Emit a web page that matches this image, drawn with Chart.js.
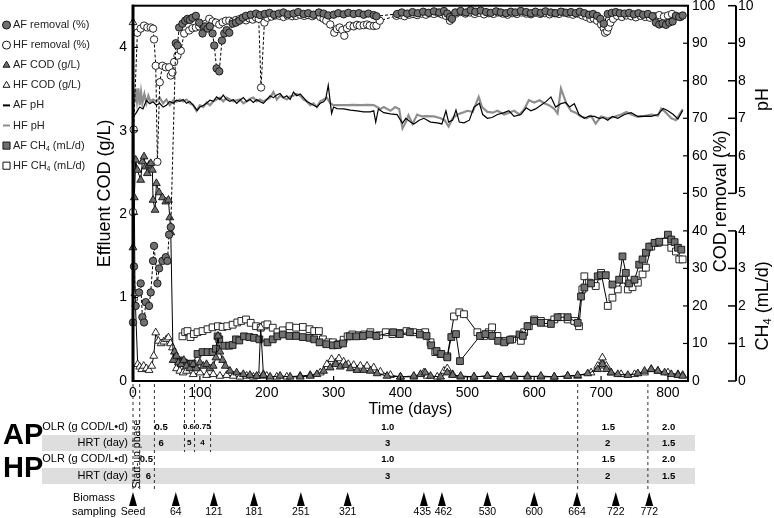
<!DOCTYPE html>
<html>
<head>
<meta charset="utf-8">
<script src="https://cdn.jsdelivr.net/npm/chart.js@4.4.1/dist/chart.umd.min.js"></script>
<style>html,body{margin:0;padding:0;background:#fff}canvas{display:block}</style>
</head>
<body>
<canvas id="c" width="774" height="518"></canvas>
<script>
const FONT = '"Liberation Sans", Arial, Helvetica, sans-serif'
Chart.defaults.font.family = FONT
Chart.defaults.color = '#000'

const GRAY = '#707070'
const PH_GRAY = '#8e8e8e'

// [day, %]
const afRemoval = [[0,15.6],[1.5,30.5],[4,20],[9,23.6],[11.5,26],[14,17],[16.5,15.6],[19,21],[24,20],[26.5,23.6],[30,32],[31.5,36],[36.5,26],[39,30],[44,32],[49,33],[51.5,32],[54,39],[56.5,41],[64,90],[66.5,89.4],[69,94.2],[74,95.2],[78,96],[81.5,96.5],[85,96.2],[89,96.8],[94,97.3],[99,95.5],[104,92.6],[108,94.5],[111.5,93.9],[115,94.5],[119,92.6],[121.5,89.4],[125,83.3],[129,82.5],[133,90.7],[136.5,92.6],[140,93.5],[144,92.8],[149,95.2],[154,95.5],[159,96],[164,96.8],[169,97.3],[176,97.6],[184,97.9],[190,97.5],[197,97.8],[204,98.1],[211,97.6],[218,97.9],[225,98.2],[232,97.7],[240,97.9],[247,98.3],[255,97.8],[262,98],[270,97.6],[278,98.2],[285,97.9],[292,97.4],[300,97.6],[307,98],[315,97.7],[322,98.1],[330,97.8],[338,98],[345,97.6],[352,97.9],[360,97.5],[364,97.2],[395,97.8],[402,98.2],[410,97.9],[418,98.3],[426,98],[434,98.4],[442,98.1],[450,98.5],[458,98.2],[465,98.6],[470,97.9],[474,97],[477,96.5],[482,98.2],[490,98.6],[498,98.2],[505,98.8],[512,98.4],[520,98.7],[528,98.3],[535,98.1],[543,98.5],[550,98.2],[558,98],[565,98.4],[572,98.2],[580,98.6],[588,98.3],[595,98],[602,98.4],[610,98.1],[617,98.5],[625,98.2],[632,98],[640,98.4],[648,98.1],[655,98.3],[662,98],[668,98.4],[675,98],[682,97.6],[688,97.8],[694,97.3],[699,96.5],[704,95.2],[710,97.8],[716,98.1],[722,98.3],[728,98],[735,97.9],[742,98.1],[749,97.7],[756,98],[763,97.6],[770,97.8],[777,97.2],[782,95.5],[787,95],[792,95.3],[797,94.9],[802,95.5],[807,95.8],[812,97.3],[817,97],[822,97.4]]
const hfRemoval = [[0,45],[1,67],[6.5,92.8],[11.5,93.9],[16.5,94.7],[21.5,94.2],[26.5,94.2],[30,93.9],[31.5,91],[34,84],[36.5,58.4],[40,79.6],[44,84],[49,83.6],[54,83.6],[56.5,81.4],[59,82.2],[61.5,85],[66.5,86.7],[71.5,88],[76.5,92.6],[84,93.4],[89,94],[94,94.2],[99,94.5],[104,94.7],[109,95.2],[114,96.5],[119,95.8],[124,95.5],[129,95],[134,95.6],[139,96],[144,96],[149,95.7],[154,96.2],[159,96.4],[164,96.5],[169,96.1],[174,96.6],[179,96.3],[184,96.8],[188,96.5],[191.5,78.2],[196.5,95.5],[201,96.8],[207,97.1],[213,97.4],[219,97.3],[225,97],[231,97.4],[238,97.2],[244,97.3],[250,97.6],[256,97.3],[262,97.5],[268,97.2],[274,97.6],[280,97],[285,96.5],[289,96],[295,95],[301,92.8],[305,93.8],[309,94.2],[313,93.5],[316,92],[320,94],[324,94.7],[330,94.5],[335,94.9],[339,94.7],[345,94.8],[350,95],[354,94.7],[360,94.6],[364,94.7],[369,96],[394,97.3],[400,97.5],[406,97.2],[413,97.6],[419,97.8],[425,97.5],[432,97.9],[438,97.6],[444,98],[450,97.8],[456,98.1],[462,97.7],[468,97.3],[474,96],[477,97.3],[483,97.9],[490,98.3],[497,97.9],[504,98.2],[511,97.8],[518,98.1],[525,97.7],[532,98],[539,97.8],[546,98.2],[553,97.9],[560,97.6],[567,98],[574,97.8],[581,98.2],[588,97.9],[595,97.7],[602,98.1],[609,97.8],[616,98],[623,97.7],[630,98],[637,97.8],[644,98.2],[651,97.9],[658,97.6],[665,97.9],[672,97.4],[678,97],[684,96.5],[689,96.6],[694,96],[700,95],[704,94],[706,92.8],[709,93.2],[711,94.2],[714,95.5],[718,96.5],[724,97.3],[731,97],[738,97.4],[745,97.2],[752,96.9],[759,97.3],[766,97],[773,96.8],[780,97.2],[787,97.5],[794,97.1],[800,97.4],[806,97.8],[812,97.2],[819,97]]

// [day, g/L]
const afCod = [[0,1.6],[2,2.2],[4,2.65],[6.5,2.53],[11.5,2.41],[14,2.63],[16.5,2.69],[19,2.57],[21.5,2.49],[24,2.59],[26.5,2.61],[29,2.53],[30,2.17],[33,2.05],[35,2.37],[39,2.26],[44,2.2],[49,2.15],[53,2.17],[55,1.96],[56.5,1.78],[60,0.25],[62,0.35],[65,0.3],[68,0.22],[72,0.2],[76,0.25],[80,0.18],[85,0.15],[90,0.2],[95,0.15],[100,0.22],[105,0.18],[110,0.2],[115,0.15],[120,0.18],[124,0.28],[127,0.54],[130,0.35],[134,0.25],[138,0.18],[145,0.12],[155,0.1],[165,0.08],[175,0.07],[185,0.06],[195,0.07],[205,0.05],[220,0.06],[235,0.05],[250,0.05],[265,0.06],[275,0.08],[285,0.12],[295,0.16],[303,0.2],[310,0.17],[318,0.19],[325,0.15],[335,0.13],[345,0.13],[355,0.12],[365,0.09],[380,0.06],[400,0.05],[420,0.06],[430,0.08],[437,0.1],[445,0.06],[460,0.05],[470,0.1],[478,0.07],[490,0.06],[510,0.05],[530,0.06],[550,0.05],[570,0.06],[590,0.05],[610,0.06],[630,0.05],[650,0.06],[665,0.07],[680,0.09],[695,0.14],[702,0.2],[708,0.14],[715,0.1],[725,0.08],[740,0.07],[755,0.09],[765,0.12],[775,0.14],[785,0.12],[795,0.1],[805,0.08],[815,0.07],[822,0.06]]
const hfCod = [[0,4.3],[3,1.05],[7,0.2],[10,0.17],[13,0.14],[16,0.18],[20,0.15],[24,0.13],[28,0.18],[31,0.3],[34,0.58],[38,0.48],[42,0.45],[46,0.47],[50,0.5],[53,0.52],[56,0.45],[59,0.4],[62,0.25],[65,0.15],[70,0.12],[75,0.1],[80,0.12],[90,0.08],[100,0.1],[110,0.07],[120,0.08],[130,0.06],[140,0.07],[150,0.06],[160,0.05],[170,0.06],[180,0.05],[188,0.06],[191,0.64],[195,0.08],[200,0.06],[215,0.05],[230,0.05],[250,0.06],[265,0.07],[280,0.1],[290,0.2],[297,0.26],[303,0.22],[308,0.27],[315,0.23],[322,0.2],[330,0.19],[340,0.18],[350,0.18],[360,0.16],[370,0.11],[385,0.07],[400,0.05],[420,0.05],[435,0.1],[440,0.06],[455,0.05],[465,0.12],[470,0.15],[478,0.08],[490,0.05],[510,0.05],[530,0.06],[550,0.05],[570,0.05],[590,0.06],[610,0.05],[630,0.05],[650,0.06],[665,0.06],[685,0.1],[695,0.18],[702,0.28],[708,0.18],[715,0.1],[730,0.08],[750,0.08],[765,0.1],[775,0.14],[785,0.12],[800,0.1],[815,0.08],[822,0.07]]

// [day, pH]
const afPh = [[0,7.03],[5,7.15],[10,7.3],[15,7.25],[20,7.48],[25,7.39],[30,7.44],[35,7.35],[40,7.4],[45,7.3],[50,7.35],[55,7.45],[60,7.4],[65,7.48],[70,7.45],[75,7.5],[80,7.4],[85,7.45],[90,7.35],[96,7.21],[100,7.3],[105,7.34],[110,7.4],[115,7.48],[120,7.45],[125,7.57],[130,7.5],[135,7.62],[140,7.5],[145,7.45],[150,7.5],[155,7.4],[160,7.48],[165,7.55],[170,7.45],[175,7.5],[180,7.42],[185,7.5],[190,7.44],[195,7.4],[200,7.5],[205,7.6],[210,7.55],[215,7.62],[220,7.66],[225,7.55],[230,7.6],[235,7.5],[240,7.7],[245,7.6],[250,7.65],[255,7.55],[260,7.45],[265,7.4],[270,7.35],[275,7.3],[280,7.4],[285,7.44],[288,7.5],[292,7.88],[297,7.13],[300,7.3],[305,7.26],[315,7.25],[325,7.22],[335,7.2],[345,7.17],[355,7.17],[360,7.2],[363,6.9],[367,7.25],[375,7.15],[385,7.12],[395,7.1],[400,6.95],[403,6.87],[408,7],[415,6.9],[420,6.85],[428,6.95],[435,7],[445,6.9],[455,6.88],[462,6.85],[468,7.2],[472,6.9],[478,6.95],[483,7.22],[488,6.9],[495,6.88],[503,6.95],[510,7.3],[518,7.4],[523,7.1],[530,7],[537,7.02],[545,7.1],[555,7.15],[562,7.2],[570,7.05],[580,7.1],[588,7.28],[595,7.2],[602,7.25],[610,7.35],[618,7.45],[625,7.57],[632,7.3],[640,7.39],[647,7.42],[653,7.3],[660,7.39],[667,7.1],[675,7],[682,7.06],[690,7.05],[697,7],[703,7.02],[710,6.95],[717,7.05],[725,7],[735,7.1],[745,7.15],[755,7.05],[765,7.06],[775,7.05],[785,7.1],[793,7.26],[800,7.2],[808,7.1],[815,6.98],[822,7.21]]
const hfPh = [[0,7.75],[2,7.4],[4,7.8],[6,7.45],[8,7.8],[10,7.35],[12,7.7],[14,7.4],[17,7.65],[20,7.4],[23,7.6],[26,7.45],[30,7.5],[35,7.45],[40,7.55],[45,7.4],[50,7.5],[55,7.35],[60,7.48],[65,7.44],[70,7.5],[75,7.45],[80,7.5],[85,7.4],[90,7.35],[95,7.2],[100,7.35],[105,7.3],[110,7.42],[115,7.35],[120,7.45],[125,7.5],[130,7.55],[135,7.45],[140,7.55],[145,7.5],[150,7.45],[155,7.48],[160,7.5],[165,7.4],[170,7.45],[175,7.52],[180,7.55],[185,7.45],[190,7.5],[195,7.45],[200,7.5],[205,7.55],[210,7.7],[215,7.5],[220,7.6],[225,7.55],[230,7.5],[235,7.58],[240,7.6],[245,7.65],[250,7.6],[255,7.5],[260,7.45],[265,7.35],[270,7.4],[275,7.3],[280,7.45],[285,7.5],[290,7.55],[295,7.4],[300,7.35],[310,7.35],[320,7.35],[330,7.36],[340,7.35],[350,7.36],[360,7.35],[365,7.3],[370,7.25],[375,7.3],[385,7.2],[392,7.3],[398,7.25],[403,6.73],[408,6.9],[412,7.08],[418,6.85],[425,7.1],[432,7.05],[440,7.06],[450,7.05],[460,7],[466,6.95],[472,6.78],[478,7],[485,7.1],[493,7.15],[500,7.2],[508,7.17],[517,7.57],[522,7.3],[530,7.17],[538,7.15],[545,7.2],[555,7.1],[562,7.15],[570,7.2],[578,7.1],[585,7.24],[592,7.48],[600,7.42],[608,7.48],[615,7.4],[622,7.35],[630,7.25],[635,7.13],[640,7.79],[648,7.4],[655,7.2],[662,7.15],[670,7.05],[678,7],[685,7.06],[692,6.86],[700,7.05],[710,7],[720,7.04],[730,7.1],[738,7.17],[745,7.1],[755,7.04],[765,7.06],[775,7.1],[785,7.07],[790,7.26],[797,7.15],[805,7],[812,6.95],[822,7.24]]

// [day, mL/d]
const afCh4 = [[69,0.55],[72,0.5],[76,0.49],[81,0.46],[86,0.45],[89,0.46],[96.5,0.72],[104,0.77],[111.5,0.77],[119,0.77],[124,0.86],[126.5,1.19],[129,1.11],[136.5,0.94],[144,0.94],[149,0.96],[154,1.11],[159,1.08],[166,1.19],[174,1.17],[181,1.15],[189,1.11],[201,1.03],[209,1.11],[216,1.19],[224,1.24],[234,1.2],[244,1.2],[254,1.17],[264,1.15],[271,1.11],[279,1.03],[289,0.98],[299,0.95],[306,0.96],[314,1],[324,1.19],[334,1.19],[344,1.2],[354,1.24],[364,1.2],[389,1.3],[399,1.25],[414,1.3],[429,1.24],[439,1.2],[446,0.95],[454,0.8],[461,0.72],[470,0.63],[476,1.17],[483,1.25],[489,0.53],[519,1.2],[527,1.25],[537,1.2],[546,1.07],[555,1.03],[564,1.1],[578,1.24],[583,1.2],[590,1.46],[600,1.6],[610,1.55],[625,1.52],[635,1.7],[650,1.7],[665,1.55],[670,2.25],[675,2.49],[685,2.6],[695,2.79],[700,2.82],[707,2.82],[717,2.57],[727,2.7],[732,3.32],[737,2.88],[742,2.6],[750,2.7],[757,3.1],[762,3.24],[767,3.42],[772,3.58],[780,3.68],[787,3.71],[800,3.9],[805,3.77],[810,3.7],[815,3.55],[820,3.5]]
const hfCh4 = [[74,1.19],[78,1.3],[81.5,1.33],[86,1.17],[91,1.25],[96.5,1.3],[104,1.33],[111.5,1.38],[119,1.43],[127,1.46],[134,1.44],[141,1.46],[149,1.5],[156,1.56],[162,1.6],[169,1.64],[176,1.55],[184,1.46],[191,1.42],[197,1.48],[201,1.51],[209,1.42],[216,1.3],[224,1.35],[234,1.46],[244,1.42],[254,1.44],[264,1.38],[271,1.33],[278,1.33],[284,1.11],[292,1.03],[299,1.03],[307,0.98],[315,1.1],[321,1.19],[328,1.24],[338,1.22],[346,1.24],[355,1.3],[368,1.22],[378,1.3],[388,1.25],[398,1.28],[409,1.33],[419,1.3],[429,1.28],[437,1.3],[445,1.03],[452,0.77],[460,0.72],[470,0.66],[480,1.72],[488,1.83],[495,1.78],[515,1.3],[525,1.2],[532,1.3],[537,1.43],[545,1.2],[557,1.07],[567,1.11],[580,1.07],[585,1.3],[592,1.46],[600,1.64],[610,1.6],[620,1.55],[630,1.64],[640,1.7],[650,1.64],[660,1.6],[667,1.46],[672,2.44],[675,2.79],[682,2.62],[692,2.53],[700,2.88],[710,2],[717,2.22],[725,2.44],[732,2.7],[740,2.44],[747,2.5],[755,2.62],[762,2.84],[767,3.02],[775,3.58],[785,3.68],[795,3.71],[805,3.55],[812,3.45],[817,3.24],[822,3.24]]

const xTicks = [0, 100, 200, 300, 400, 500, 600, 700, 800]
const codTicks = [0, 1, 2, 3, 4]
const removalTicks = [0, 10, 20, 30, 40, 50, 60, 70, 80, 90, 100]
const sideTicks = [0, 1, 2, 3, 4, 5, 6, 7, 8, 9, 10]
const sideSegments = [[5, 10], [0, 4]]

// operating stages (days)
const apBounds = [10, 77, 92, 116, 665, 770]
const hpBounds = [10, 32, 665, 770]
const apOlr = [['0.5', 42], ['0.6', 83], ['0.75', 104.5], ['1.0', 381], ['1.5', 711], ['2.0', 801]]
const apHrt = [['6', 42], ['5', 84], ['4', 104], ['3', 381], ['2', 710], ['1.5', 801]]
const hpOlr = [['0.5', 20], ['1.0', 381], ['1.5', 711], ['2.0', 801]]
const hpHrt = [['6', 23], ['3', 381], ['2', 710], ['1.5', 801]]
const sampleDays = [0, 64, 121, 181, 251, 321, 435, 462, 530, 600, 664, 722, 772]
const sampleLabels = ['Seed', '64', '121', '181', '251', '321', '435', '462', '530', '600', '664', '722', '772']

const pts = a => a.map(([x, y]) => ({ x, y }))

function marks(label, data, axis, style, fill, dash) {
  return {
    label, data: pts(data), yAxisID: axis,
    borderColor: '#000', borderWidth: 1, borderDash: dash || [],
    pointStyle: style,
    pointRadius: style === 'rect' ? 4.8 : (style === 'triangle' ? 4.5 : 3.7),
    pointBackgroundColor: fill, pointBorderColor: '#111', pointBorderWidth: 0.9,
    tension: 0, clip: 6
  }
}

const datasets = [
  marks('AF removal (%)', afRemoval, 'yr', 'circle', GRAY, [3, 2]),
  marks('HF removal (%)', hfRemoval, 'yr', 'circle', '#fff', [3, 2]),
  marks('AF COD (g/L)', afCod, 'y', 'triangle', GRAY),
  marks('HF COD (g/L)', hfCod, 'y', 'triangle', '#fff'),
  { label: 'AF pH', data: pts(afPh), yAxisID: 'y2', borderColor: '#000', borderWidth: 1.2, pointRadius: 0, pointStyle: 'line', tension: 0 },
  { label: 'HF pH', data: pts(hfPh), yAxisID: 'y2', borderColor: PH_GRAY, borderWidth: 2.2, pointRadius: 0, pointStyle: 'line', tension: 0 },
  marks('AF CH₄ (mL/d)', afCh4, 'y2', 'rect', GRAY),
  marks('HF CH₄ (mL/d)', hfCh4, 'y2', 'rect', '#fff')
]

function richWidth(ctx, text, size, weight) {
  let w = 0
  for (const part of text.split(/(₄)/)) {
    if (!part) continue
    const sub = part === '₄'
    ctx.font = (weight || '') + ' ' + (sub ? size * 0.62 : size) + 'px ' + FONT
    w += ctx.measureText(sub ? '4' : part).width
  }
  return w
}

function drawRich(ctx, text, x, y, size, align) {
  let cx = align === 'center' ? x - richWidth(ctx, text, size) / 2 : x
  ctx.textAlign = 'left'
  ctx.textBaseline = 'middle'
  for (const part of text.split(/(₄)/)) {
    if (!part) continue
    const sub = part === '₄'
    const t = sub ? '4' : part
    ctx.font = (sub ? size * 0.62 : size) + 'px ' + FONT
    ctx.fillText(t, cx, sub ? y + size * 0.3 : y)
    cx += ctx.measureText(t).width
  }
}

function vText(ctx, text, x, y, size) {
  ctx.save()
  ctx.translate(x, y)
  ctx.rotate(-Math.PI / 2)
  drawRich(ctx, text, 0, 0, size, 'center')
  ctx.restore()
}

function line(ctx, x1, y1, x2, y2) {
  ctx.beginPath(); ctx.moveTo(x1, y1); ctx.lineTo(x2, y2); ctx.stroke()
}

const deco = {
  id: 'deco',
  afterDraw(chart) {
    const { ctx, chartArea: a } = chart
    const { x, y, yr, y2 } = chart.scales
    ctx.save()
    ctx.fillStyle = '#000'
    ctx.strokeStyle = '#000'

    // frame + inward ticks
    ctx.lineWidth = 2
    ctx.strokeRect(a.left, a.top, a.right - a.left, a.bottom - a.top)
    ctx.lineWidth = 3
    line(ctx, a.left, a.top - 1, a.left, a.bottom + 1)
    ctx.lineWidth = 1.2
    codTicks.forEach(v => { const p = y.getPixelForValue(v); line(ctx, a.left, p, a.left + 5, p) })
    removalTicks.forEach(v => { const p = yr.getPixelForValue(v); line(ctx, a.right - 5, p, a.right, p) })
    xTicks.forEach(v => { const p = x.getPixelForValue(v); line(ctx, p, a.bottom, p, a.bottom - 5) })

    // broken pH / CH4 axis
    const ax = y2.left + 4
    ctx.lineWidth = 2
    sideSegments.forEach(([s0, s1]) => line(ctx, ax, y2.getPixelForValue(s0), ax, y2.getPixelForValue(s1)))
    ctx.lineWidth = 1.5
    sideTicks.forEach(v => { const p = y2.getPixelForValue(v); line(ctx, ax - 8, p, ax, p) })

    // right titles
    vText(ctx, 'COD removal (%)', yr.right - 11, (a.top + a.bottom) / 2 + 8, 18)
    vText(ctx, 'pH', 763, (y2.getPixelForValue(5) + y2.getPixelForValue(10)) / 2, 18)
    vText(ctx, 'CH₄ (mL/d)', 763, (y2.getPixelForValue(0) + y2.getPixelForValue(4)) / 2, 18)

    // legend built from the datasets
    chart.data.datasets.forEach((ds, i) => {
      const ly = 25 + i * 20.1
      if (ds.pointRadius === 0) {
        ctx.strokeStyle = ds.borderColor
        ctx.lineWidth = 2
        line(ctx, 3, ly, 10, ly)
      } else {
        ctx.fillStyle = ds.pointBackgroundColor
        ctx.strokeStyle = '#111'
        ctx.lineWidth = 1
        Chart.helpers.drawPoint(ctx, { pointStyle: ds.pointStyle, radius: ds.pointStyle === 'rect' ? 5 : 4, borderWidth: 1, rotation: 0 }, 6.5, ly)
      }
      ctx.fillStyle = '#222'
      drawRich(ctx, ds.label, 13, ly, 11)
    })

    // operating table
    const rOlrAP = a.bottom + 46, rHrtAP = a.bottom + 62
    const rOlrHP = a.bottom + 78, rHrtHP = a.bottom + 95
    ctx.fillStyle = '#dedede'
    ctx.fillRect(42, rHrtAP - 8, 653, 16)
    ctx.fillRect(42, rHrtHP - 8, 653, 16)

    ctx.strokeStyle = '#333'
    ctx.lineWidth = 1
    ctx.setLineDash([3, 3])
    const px = d => x.getPixelForValue(d)
    line(ctx, px(0), a.bottom + 3, px(0), a.bottom + 111)
    hpBounds.forEach(d => line(ctx, px(d), a.bottom + 3, px(d), a.bottom + 110))
    apBounds.filter(d => !hpBounds.includes(d)).forEach(d => line(ctx, px(d), a.bottom + 3, px(d), a.bottom + 71))
    ctx.setLineDash([])

    ctx.fillStyle = '#000'
    ctx.textBaseline = 'middle'
    ctx.font = 'bold 29px ' + FONT
    ctx.textAlign = 'left'
    ctx.fillText('AP', 3, (rOlrAP + rHrtAP) / 2 + 1)
    ctx.fillText('HP', 3, (rOlrHP + rHrtHP) / 2 + 1)
    ctx.font = '11px ' + FONT
    ctx.textAlign = 'right'
    ctx.fillText('OLR (g COD/L\u2022d)', 128, rOlrAP)
    ctx.fillText('HRT (day)', 128, rHrtAP)
    ctx.fillText('OLR (g COD/L\u2022d)', 128, rOlrHP)
    ctx.fillText('HRT (day)', 128, rHrtHP)

    ctx.textAlign = 'center'
    ;[[apOlr, rOlrAP], [apHrt, rHrtAP], [hpOlr, rOlrHP], [hpHrt, rHrtHP]].forEach(([row, ry]) => {
      row.forEach(([t, d]) => {
        ctx.font = (d > 75 && d < 116 ? 'bold 8px ' : 'bold 9.5px ') + FONT
        ctx.fillText(t, px(d), ry)
      })
    })

    ctx.save()
    ctx.translate(px(5) + 1, a.bottom + 73)
    ctx.rotate(-Math.PI / 2)
    ctx.font = '10.5px ' + FONT
    ctx.fillText('Start-up phase', 0, 0)
    ctx.restore()

    // biomass sampling
    ctx.font = '11px ' + FONT
    ctx.textAlign = 'center'
    ctx.fillText('Biomass', 94, a.bottom + 117)
    ctx.fillText('sampling', 94, a.bottom + 131)
    ctx.font = '10.5px ' + FONT
    sampleDays.forEach((d, i) => {
      const sx = px(d)
      ctx.beginPath()
      ctx.moveTo(sx, a.bottom + 111)
      ctx.lineTo(sx + 4, a.bottom + 125)
      ctx.lineTo(sx - 4, a.bottom + 125)
      ctx.closePath()
      ctx.fill()
      ctx.fillText(sampleLabels[i], sx + (i === 6 ? -1.5 : i === 7 ? 1.5 : 0), a.bottom + 131)
    })
    ctx.restore()
  }
}

const noPad = s => { s.paddingTop = 0; s.paddingBottom = 0; s.paddingLeft = 0; s.paddingRight = 0 }
const tickFont = { size: 14 }

new Chart(document.getElementById('c'), {
  type: 'line',
  data: { datasets },
  options: {
    responsive: false,
    animation: false,
    devicePixelRatio: 1,
    layout: { padding: { left: 92, right: 0, top: 5, bottom: 99 } },
    plugins: { legend: { display: false }, tooltip: { enabled: false } },
    scales: {
      x: {
        type: 'linear', min: 0, max: 830,
        afterBuildTicks: s => { s.ticks = xTicks.map(v => ({ value: v })) },
        afterFit: s => { s.height = 38; noPad(s) },
        ticks: { font: tickFont, padding: 4, maxRotation: 0, autoSkip: false },
        grid: { display: false, drawTicks: false }, border: { display: false },
        title: { display: true, text: 'Time (days)', font: { size: 16 }, padding: 0 }
      },
      y: {
        position: 'left', min: 0, max: 4.5,
        afterBuildTicks: s => { s.ticks = codTicks.map(v => ({ value: v })) },
        afterFit: s => { s.width = 41; noPad(s) },
        ticks: { font: tickFont, padding: 6 },
        grid: { display: false, drawTicks: false }, border: { display: false },
        title: { display: true, text: 'Effluent COD (g/L)', font: { size: 18 }, padding: { top: 2, bottom: 0 } }
      },
      yr: {
        position: 'right', min: 0, max: 100,
        afterBuildTicks: s => { s.ticks = removalTicks.map(v => ({ value: v })) },
        afterFit: s => { s.width = 44; noPad(s) },
        ticks: { font: tickFont, padding: 4 },
        grid: { display: false, drawTicks: false }, border: { display: false }
      },
      y2: {
        position: 'right', min: 0, max: 10,
        afterBuildTicks: s => { s.ticks = sideTicks.map(v => ({ value: v })) },
        afterFit: s => { s.width = 42; noPad(s) },
        ticks: { font: tickFont, padding: 6 },
        grid: { display: false, drawTicks: false }, border: { display: false }
      }
    }
  },
  plugins: [deco]
})
</script>
</body>
</html>
